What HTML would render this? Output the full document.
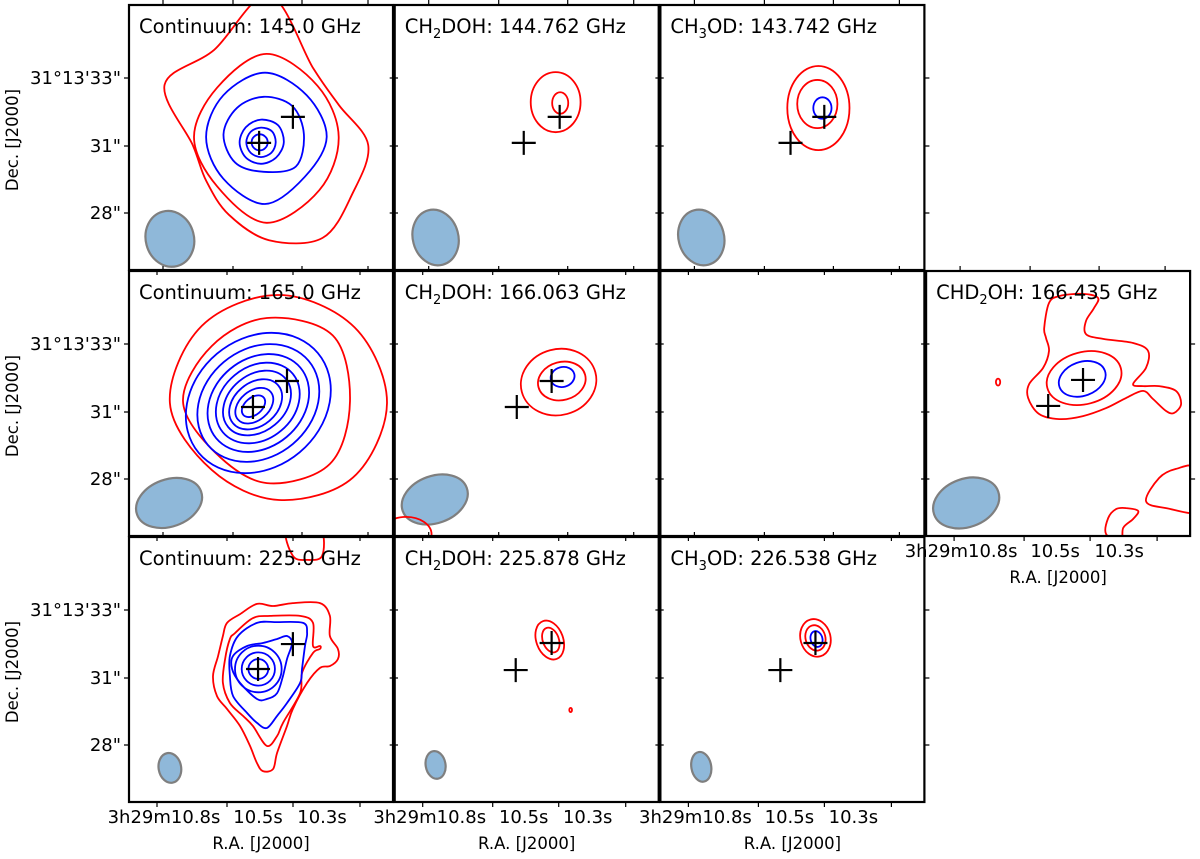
<!DOCTYPE html>
<html><head><meta charset="utf-8"><style>
html,body{margin:0;padding:0;background:#fff;}
svg{display:block;font-family:"DejaVu Sans","Liberation Sans",sans-serif;}
</style></head><body>
<svg id="fig" width="1200" height="859" viewBox="0 0 1200 859" xmlns="http://www.w3.org/2000/svg"></svg>
<script>
// ===== data (sky offsets in arcsec) =====
const panelCells = [[0,0],[1,0],[2,0],[0,1],[1,1],[2,1],[3,1],[0,2],[1,2],[2,2]];
const panelTitles = [
  ["Continuum: 145.0 GHz"],["CH","2","DOH: 144.762 GHz"],["CH","3","OD: 143.742 GHz"],
  ["Continuum: 165.0 GHz"],["CH","2","DOH: 166.063 GHz"],[""],["CHD","2","OH: 166.435 GHz"],
  ["Continuum: 225.0 GHz"],["CH","2","DOH: 225.878 GHz"],["CH","3","OD: 226.538 GHz"]];
const crossA = [[-0.07,-0.22],[-0.11,-0.22],[-0.07,-0.22],[-0.30,-0.15],[-0.37,-0.15],null,[-0.37,-0.11],[-0.11,0],[-0.41,-0.04],[-0.45,-0.04]];
const crossB = [[1.19,0.75],[1.23,0.75],[1.19,0.75],[0.97,0.82],[0.93,0.82],null,[0.93,0.86],[1.19,0.93],[0.93,0.97],[0.86,0.97]];
const beams = [[-3.4,-3.8,0.9,1.05,-15],[-3.4,-3.75,0.85,1.05,-15],[-3.4,-3.75,0.85,1.05,-15],
  [-3.43,-3.73,1.27,0.88,-20],[-3.43,-3.6,1.27,0.88,-20],null,[-3.43,-3.73,1.27,0.9,-20],
  [-3.4,-3.69,0.42,0.56,-10],[-3.4,-3.58,0.37,0.52,-10],[-3.4,-3.65,0.37,0.56,-10]];
// blob contours: [panel, color, cx, cy, radii...]  (radii at equal angles from east, counter-clockwise)
const blobContours = [
  [0,"red",0.3,-0.3,3.7,3.0,3.3,5.6,4.1,4.5,2.85,2.7,3.0,3.55,4.0,3.6],
  [0,"red",0.2,0,2.7,2.7,3.1,2.6,2.7,2.6,3.2,2.8],
  [0,"blue",0.15,0,2.3,2.2,2.4,2.2,2.2,2.2,2.5,2.1],
  [0,"blue",0.1,0.1,1.5,1.5,1.4,1.4,1.5,1.5,1.4,1.7],
  [0,"blue",0,-0.2,0.85,0.9,0.85,0.8,0.8,0.8,0.8,0.8],
  [0,"blue",0,-0.2,0.55,0.58,0.55,0.55,0.55,0.55,0.55,0.55],
  [0,"blue",-0.05,-0.2,0.3,0.3,0.3,0.3,0.3,0.3,0.3,0.3],
  [3,"red",0.67,0,4.03,3.99,4.03,4.07,4.07,3.54,3.62,3.92],
  [3,"red",0.22,0.07,3.1,3.47,3.1,2.91,3.13,2.72,3.06,3.32]
];
// ellipse contours: [panel, color, cx, cy, rx, ry, rotDeg]
const ellipseContours = [
  [1,"red",1.08,1.3,0.93,1.12,0],[1,"red",1.25,1.27,0.3,0.4,0],
  [2,"red",0.97,1.08,1.16,1.57,0],[2,"red",0.93,1.23,0.75,0.9,0],[2,"blue",1.12,1.08,0.34,0.4,0],
  [3,"blue",-0.1,0,2.9,2.4,-40],[3,"blue",-0.1,0,2.45,2.0,-40],[3,"blue",-0.1,0,2.05,1.65,-40],
  [3,"blue",-0.12,0,1.7,1.35,-40],[3,"blue",-0.15,0,1.4,1.05,-40],[3,"blue",-0.2,-0.05,1.1,0.8,-40],
  [3,"blue",-0.25,-0.1,0.8,0.55,-40],[3,"blue",-0.28,-0.12,0.5,0.32,-40],
  [4,"red",1.19,0.78,1.42,1.23,-15],[4,"red",1.31,0.82,0.9,0.71,-15],[4,"blue",1.34,0.97,0.45,0.37,-15],
  [4,"red",-4.5,-4.9,0.95,0.65,0],
  [6,"red",0.97,0.93,1.42,0.97,-15],[6,"blue",0.9,0.9,0.9,0.63,-20],[6,"red",-2.24,0.78,0.08,0.13,0],
  [7,"blue",-0.1,0,0.87,0.87,0],[7,"blue",-0.1,0,0.62,0.62,0],[7,"blue",-0.1,0,0.37,0.37,0],
  [8,"red",0.86,1.08,0.5,0.75,-20],[8,"red",0.9,1.08,0.3,0.48,-20],[8,"red",1.64,-1.53,0.05,0.08,0],
  [9,"red",0.86,1.16,0.56,0.71,-15],[9,"red",0.86,1.16,0.37,0.48,-15],[9,"blue",0.9,1.12,0.22,0.3,-15]
];
// traced polygon contours: x,y pairs
const polyP6Lobe = [-0.52,2.8,-0.34,3.73,0.04,3.99,0.93,4.07,1.49,3.92,1.34,3.54,1.04,3.06,1.04,2.57,1.68,2.39,2.8,2.24,3.36,1.94,3.28,1.31,2.8,0.71,3.17,0.63,3.77,0.63,4.4,0.45,4.59,-0.04,4.33,-0.37,4.03,-0.3,3.54,0.15,3.17,0.45,2.54,0.19,1.79,-0.19,0.93,-0.49,0.04,-0.6,-0.71,-0.41,-1.12,0.19,-1.08,0.71,-0.56,1.31,-0.34,1.94,-0.45,2.43];
const polyP6Corner1 = [3.28,-3.66,3.77,-2.8,4.4,-2.46,5.15,-2.46,5.4,-4.03,4.03,-3.92];
const polyP6Corner2 = [1.79,-4.89,1.87,-4.29,2.16,-3.96,2.54,-3.92,2.99,-4.03,2.8,-4.33,2.43,-4.66,2.35,-5.2];
const polyP7Outer = [-1.27,1.72,-0.78,2.05,-0.15,2.43,0.45,2.35,1.19,2.46,2.2,2.46,2.57,1.98,2.57,1.23,2.87,0.75,2.87,0.37,2.57,0.11,2.2,0.04,1.72,-0.52,1.19,-1.49,0.97,-2.13,0.6,-3.13,0.45,-3.73,0.07,-3.81,-0.15,-3.51,-0.41,-2.87,-0.78,-2.13,-1.27,-1.49,-1.64,-1.01,-1.79,-0.26,-1.6,0.49,-1.42,1.23];
const polyP7Inner = [-0.97,1.34,-0.3,1.9,0.34,1.98,1.46,1.98,1.94,1.72,1.94,0.86,2.2,0.86,2.2,0.75,1.94,0.6,1.53,-0.15,1.46,-0.9,0.82,-2.01,0.6,-2.5,0.22,-2.87,-0.3,-2.13,-0.67,-1.75,-1.16,-1.27,-1.42,-0.52,-1.34,0.37,-1.16,1.12];
const polyP7Blue1 = [-0.86,1.23,-0.15,1.72,0.6,1.75,1.57,1.72,1.72,1.34,1.64,0.86,1.53,0,1.46,-0.52,0.97,-1.27,0.6,-1.75,0.22,-2.2,-0.15,-2.01,-0.52,-1.64,-1.04,-1.01,-1.16,-0.26,-1.16,0.49];
const polyP7Blue2 = [-1.04,0.49,-0.52,0.86,0.07,0.97,0.6,1.12,0.97,1.23,1.16,0.97,0.97,0.37,0.82,-0.26,0.6,-0.9,0.22,-1.12,-0.15,-1.12,-0.78,-0.52,-1.08,0];
const polyP7Top = [0.97,5.2,1.19,4.22,1.72,4.07,2.28,4.22,2.2,5.2];
const polyContours = [[6,"red",polyP6Lobe],[6,"red",polyP6Corner1],[6,"red",polyP6Corner2],
  [7,"red",polyP7Outer],[7,"red",polyP7Inner],[7,"blue",polyP7Blue1],[7,"blue",polyP7Blue2],[7,"red",polyP7Top]];
const decTickLabels = ["31°13'33\"","31\"","28\""];
const raTickLabels = ["3h29m10.8s","10.5s","10.3s"];

// ===== layout =====
const NS="http://www.w3.org/2000/svg";
const svg=document.getElementById('fig');
const PW=264, PH=265, S=26.8;
const colX=c=>129+c*265.7, rowY=r=>5+r*266;
const xScale=v=>132+v*S, yScale=v=>132-v*S;
function mk(tag,attrs,parent){const e=document.createElementNS(NS,tag);for(const k in attrs)e.setAttribute(k,attrs[k]);(parent||svg).appendChild(e);return e;}
function smooth(pts){
  const n=pts.length;let d=`M${pts[0][0].toFixed(1)},${pts[0][1].toFixed(1)}`;
  for(let i=0;i<n;i++){const p0=pts[(i-1+n)%n],p1=pts[i],p2=pts[(i+1)%n],p3=pts[(i+2)%n];
    const c1=[p1[0]+(p2[0]-p0[0])/6,p1[1]+(p2[1]-p0[1])/6],c2=[p2[0]-(p3[0]-p1[0])/6,p2[1]-(p3[1]-p1[1])/6];
    d+=`C${c1[0].toFixed(1)},${c1[1].toFixed(1)} ${c2[0].toFixed(1)},${c2[1].toFixed(1)} ${p2[0].toFixed(1)},${p2[1].toFixed(1)}`;}
  return d+'Z';
}
const colorMap={red:"#ff0000",blue:"#0000ff"};
const groups=[];
const defs=mk('defs',{});
panelCells.forEach((cell,i)=>{
  const x0=colX(cell[0]),y0=rowY(cell[1]);
  const cp=mk('clipPath',{id:'clip'+i},defs);
  mk('rect',{x:0,y:0,width:PW,height:PH},cp);
  const g=mk('g',{transform:`translate(${x0},${y0})`});
  
  
  const inner=mk('g',{'clip-path':`url(#clip${i})`},g);
  groups.push({g,inner});
});
beams.forEach((b,i)=>{ if(!b)return;
  const e=mk('ellipse',{cx:xScale(b[0]),cy:yScale(b[1]),rx:b[2]*S,ry:b[3]*S,fill:"#8fb8d9",stroke:"#7f7f7f","stroke-width":2.2,
    transform:`rotate(${b[4]} ${xScale(b[0])} ${yScale(b[1])})`},groups[i].inner);
  
  
});
blobContours.forEach(c=>{
  const p=c[0],r=c.slice(4),n=r.length,pts=[];
  for(let k=0;k<n;k++){const a=k*2*Math.PI/n;pts.push([xScale(c[2]+r[k]*Math.cos(a)),yScale(c[3]+r[k]*Math.sin(a))]);}
  const e=mk('path',{d:smooth(pts),fill:"none",stroke:colorMap[c[1]],"stroke-width":1.8},groups[p].inner);
  
  
});
ellipseContours.forEach(c=>{
  const p=c[0],cx=xScale(c[2]),cy=yScale(c[3]);
  const e=mk('ellipse',{cx:cx,cy:cy,rx:c[4]*S,ry:c[5]*S,fill:"none",stroke:colorMap[c[1]],"stroke-width":1.8,
    transform:`rotate(${c[6]} ${cx} ${cy})`},groups[p].inner);
  
  
});
polyContours.forEach(c=>{
  const arr=c[2],pts=[];
  for(let k=0;k<arr.length;k+=2)pts.push([xScale(arr[k]),yScale(arr[k+1])]);
  const e=mk('path',{d:smooth(pts),fill:"none",stroke:colorMap[c[1]],"stroke-width":1.8},groups[c[0]].inner);
  
  
});
[crossA,crossB].forEach((arr,j)=>arr.forEach((c,i)=>{ if(!c)return;
  const x=xScale(c[0]),y=yScale(c[1]);
  const e=mk('path',{d:`M${x-12},${y}H${x+12}M${x},${y-12}V${y+12}`,stroke:"#000","stroke-width":2.2,fill:"none"},groups[i].inner);
  
  
}));
const topTicks=[34,104,173,239], botTicks=[28,98,164,231], decTicks=[73,141,208];
panelCells.forEach((cell,i)=>{
  const g=groups[i].g, t=panelTitles[i];
  if(t[0]){
    const tx=mk('text',{x:10,y:28,'font-size':19.5,fill:"#000"},g);
    
    
    mk('tspan',{},tx).textContent=t[0];
    if(t.length>1){const s=mk('tspan',{'font-size':13,dy:5},tx);s.textContent=t[1];
      const r=mk('tspan',{dy:-5},tx);r.textContent=t[2];}
  }
  let d='';
  topTicks.forEach(x=>d+=`M${x},0v-5`);
  botTicks.forEach(x=>d+=`M${x},${PH}v5`);
  decTicks.forEach(y=>d+=`M0,${y}h-5M${PW},${y}h5`);
  const tk=mk('path',{d:d,stroke:"#000","stroke-width":1.2},g);
  
  
  const fr=mk('rect',{x:0,y:0,width:PW,height:PH,fill:"none",stroke:"#000","stroke-width":2.2},g);
  
  
});
[0,1,2].forEach(r=>{
  const y0=rowY(r);
  decTicks.forEach((y,k)=>{
    const t=mk('text',{x:121,y:y0+y+6,'font-size':18,'text-anchor':'end'});
    t.textContent=decTickLabels[k];
    
    
  });
  const yl=mk('text',{x:0,y:0,'font-size':16.5,'text-anchor':'middle',transform:`translate(18,${y0+135}) rotate(-90)`});
  yl.textContent="Dec. [J2000]";
  
  
});
[[0,2],[1,2],[2,2],[3,1]].forEach(cr=>{
  const x0=colX(cr[0]),yb=rowY(cr[1])+PH;
  [35,129,193].forEach((x,k)=>{
    const t=mk('text',{x:x0+x,y:yb+21,'font-size':18,'text-anchor':'middle'});
    t.textContent=raTickLabels[k];
    
    
  });
  const xl=mk('text',{x:x0+132,y:yb+47,'font-size':16.5,'text-anchor':'middle'});
  xl.textContent="R.A. [J2000]";
  
  
});
</script>
</body></html>
